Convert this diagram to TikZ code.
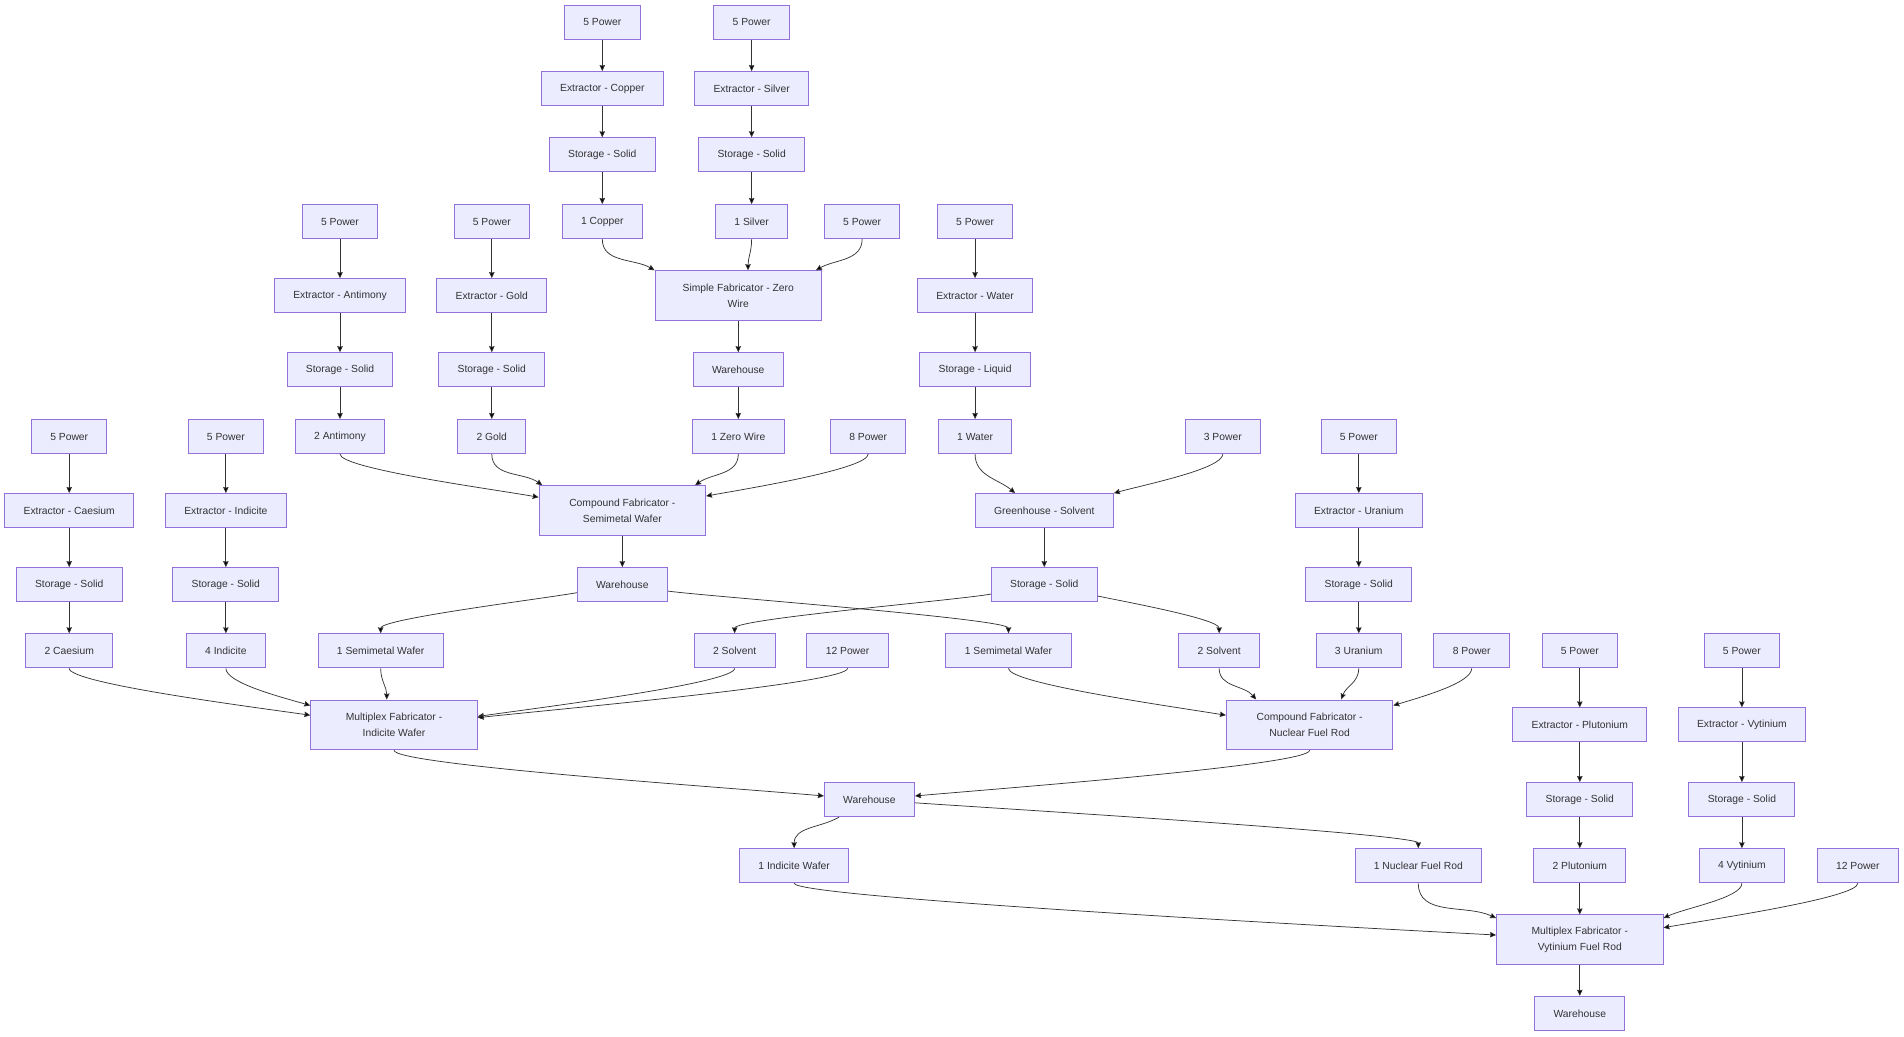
\documentclass[tikz,border=0pt]{standalone}
\usepackage{fontspec}
\setmainfont{Liberation Sans}
\usetikzlibrary{positioning,arrows.meta}
\definecolor{boxfill}{HTML}{ECECFF}
\definecolor{boxline}{HTML}{9370DB}
\definecolor{ink}{HTML}{333333}

\begin{document}
\begin{tikzpicture}[x=1pt,y=1pt,>={Stealth[length=5pt,width=4.5pt,inset=0.5pt]},
	box/.style={draw=boxline,fill=boxfill,line width=0.8pt,text=ink,
		font=\fontsize{8.5}{13}\selectfont,inner xsep=15.5pt,minimum height=28pt},
	fab/.style={box,align=center,minimum width=137pt,minimum height=41pt,inner xsep=4pt}]
	\useasboundingbox (0,0) rectangle (1568,-853.2);
	% copper and silver
	\node[box] (pw_cu) at (496,-18.5) {5 Power};
	\node[box] (pw_ag) at (619,-18.5) {5 Power};
	\node[box] (ex_cu) at (496,-73) {Extractor - Copper};
	\node[box] (ex_ag) at (619,-73) {Extractor - Silver};
	\node[box] (st_cu) at (496,-127.5) {Storage - Solid};
	\node[box] (st_ag) at (619,-127.5) {Storage - Solid};
	\node[box] (pw_sb) at (280,-182.5) {5 Power};
	\node[box] (pw_au) at (405,-182.5) {5 Power};
	\node[box] (cu) at (496,-182.5) {1 Copper};
	\node[box] (ag) at (619,-182.5) {1 Silver};
	\node[box] (pw_sf) at (710,-182.5) {5 Power};
	\node[box] (pw_h2o) at (803,-182.5) {5 Power};
	\node[box] (ex_sb) at (280,-243.5) {Extractor - Antimony};
	\node[box] (ex_au) at (405,-243.5) {Extractor - Gold};
	\node[fab] (sf) at (608,-243.5) {Simple Fabricator - Zero\\Wire};
	\node[box] (ex_h2o) at (803,-243.5) {Extractor - Water};
	\node[box] (st_sb) at (280,-304.5) {Storage - Solid};
	\node[box] (st_au) at (405,-304.5) {Storage - Solid};
	\node[box] (wh_zw) at (608,-304.5) {Warehouse};
	\node[box] (st_h2o) at (803,-304.5) {Storage - Liquid};
	% semimetal wafer and solvent
	\node[box] (pw_cs) at (57,-359.5) {5 Power};
	\node[box] (pw_in) at (186,-359.5) {5 Power};
	\node[box] (sb) at (280,-359.5) {2 Antimony};
	\node[box] (au) at (405,-359.5) {2 Gold};
	\node[box] (zw) at (608,-359.5) {1 Zero Wire};
	\node[box] (pw_sw) at (715,-359.5) {8 Power};
	\node[box] (h2o) at (803,-359.5) {1 Water};
	\node[box] (pw_gh) at (1007,-359.5) {3 Power};
	\node[box] (pw_u) at (1119,-359.5) {5 Power};
	\node[box] (ex_cs) at (57,-420.5) {Extractor - Caesium};
	\node[box] (ex_in) at (186,-420.5) {Extractor - Indicite};
	\node[fab] (cf_sw) at (512.5,-420.5) {Compound Fabricator -\\Semimetal Wafer};
	\node[box] (gh) at (860,-420.5) {Greenhouse - Solvent};
	\node[box] (ex_u) at (1119,-420.5) {Extractor - Uranium};
	\node[box] (st_cs) at (57,-481.5) {Storage - Solid};
	\node[box] (st_in) at (186,-481.5) {Storage - Solid};
	\node[box] (wh_sw) at (512.5,-481.5) {Warehouse};
	\node[box] (st_gh) at (860,-481.5) {Storage - Solid};
	\node[box] (st_u) at (1119,-481.5) {Storage - Solid};
	% indicite wafer and nuclear fuel rod
	\node[box] (cs) at (57,-536) {2 Caesium};
	\node[box] (ind) at (186,-536) {4 Indicite};
	\node[box] (sw_a) at (313.5,-536) {1 Semimetal Wafer};
	\node[box] (solv_a) at (605,-536) {2 Solvent};
	\node[box] (pw_mfi) at (698,-536) {12 Power};
	\node[box] (sw_b) at (830.5,-536) {1 Semimetal Wafer};
	\node[box] (solv_b) at (1004,-536) {2 Solvent};
	\node[box] (u) at (1119,-536) {3 Uranium};
	\node[box] (pw_cfn) at (1212,-536) {8 Power};
	\node[box] (pw_pu) at (1301,-536) {5 Power};
	\node[box] (pw_vy) at (1434.5,-536) {5 Power};
	\node[fab] (mf_iw) at (324.5,-597) {Multiplex Fabricator -\\Indicite Wafer};
	\node[fab] (cf_nfr) at (1078.5,-597) {Compound Fabricator -\\Nuclear Fuel Rod};
	\node[box] (ex_pu) at (1301,-597) {Extractor - Plutonium};
	\node[box] (ex_vy) at (1434.5,-597) {Extractor - Vytinium};
	\node[box] (wh_mid) at (716,-658.5) {Warehouse};
	\node[box] (st_pu) at (1301,-658.5) {Storage - Solid};
	\node[box] (st_vy) at (1434.5,-658.5) {Storage - Solid};
	% vytinium fuel rod
	\node[box] (iw) at (654,-713) {1 Indicite Wafer};
	\node[box] (nfr) at (1168,-713) {1 Nuclear Fuel Rod};
	\node[box] (pu) at (1301,-713) {2 Plutonium};
	\node[box] (vy) at (1434.5,-713) {4 Vytinium};
	\node[box] (pw_mfv) at (1530,-713) {12 Power};
	\node[fab] (mf_vfr) at (1301,-774) {Multiplex Fabricator -\\Vytinium Fuel Rod};
	\node[box] (wh_end) at (1301,-834.5) {Warehouse};
	\path[->,draw=ink,line width=0.6pt]
	(pw_cu) edge (ex_cu) (ex_cu) edge (st_cu) (st_cu) edge (cu)
	(pw_ag) edge (ex_ag) (ex_ag) edge (st_ag) (st_ag) edge (ag)
	(cu) edge [out=-90,in=150] (sf.north west)
	(ag) edge [out=-90,in=90] ([xshift=8pt]sf.north)
	(pw_sf) edge [out=-90,in=30] ([xshift=-5pt]sf.north east)
	(sf) edge (wh_zw) (wh_zw) edge (zw)
	(pw_sb) edge (ex_sb) (ex_sb) edge (st_sb) (st_sb) edge (sb)
	(pw_au) edge (ex_au) (ex_au) edge (st_au) (st_au) edge (au)
	(pw_h2o) edge (ex_h2o) (ex_h2o) edge (st_h2o) (st_h2o) edge (h2o)
	(sb) edge [out=-90,in=170,out distance=12pt,in distance=40pt] ([yshift=11pt]cf_sw.west)
	(au) edge [out=-90,in=145] ([xshift=3pt]cf_sw.north west)
	(zw) edge [out=-90,in=35] ([xshift=-9pt]cf_sw.north east)
	(pw_sw) edge [out=-90,in=10,out distance=12pt,in distance=40pt] ([yshift=12pt]cf_sw.east)
	(cf_sw) edge (wh_sw)
	(h2o) edge [out=-90,in=140] ([xshift=-24pt]gh.north)
	(pw_gh) edge [out=-90,in=15,out distance=12pt,in distance=30pt] (gh.north east)
	(gh) edge (st_gh)
	(pw_cs) edge (ex_cs) (ex_cs) edge (st_cs) (st_cs) edge (cs)
	(pw_in) edge (ex_in) (ex_in) edge (st_in) (st_in) edge (ind)
	(pw_u) edge (ex_u) (ex_u) edge (st_u) (st_u) edge (u)
	(wh_sw) edge [out=190,in=90,out distance=30pt,in distance=12pt] (sw_a)
	(wh_sw) edge [out=-8,in=90,out distance=30pt,in distance=12pt] (sw_b)
	(st_gh) edge [out=190,in=90,out distance=30pt,in distance=12pt] (solv_a)
	(st_gh) edge [out=-12,in=90,out distance=20pt,in distance=12pt] (solv_b)
	(cs) edge [out=-90,in=172,out distance=12pt,in distance=60pt] ([yshift=8pt]mf_iw.west)
	(ind) edge [out=-90,in=164,out distance=12pt,in distance=25pt] ([yshift=16pt]mf_iw.west)
	(sw_a) edge [out=-90,in=90] ([xshift=-6pt]mf_iw.north)
	(solv_a) edge [out=-90,in=8,out distance=12pt,in distance=60pt] ([yshift=7pt]mf_iw.east)
	(pw_mfi) edge [out=-90,in=6,out distance=12pt,in distance=80pt] ([yshift=6pt]mf_iw.east)
	(sw_b) edge [out=-90,in=171,out distance=12pt,in distance=60pt] ([yshift=8pt]cf_nfr.west)
	(solv_b) edge [out=-90,in=130] ([xshift=-44pt]cf_nfr.north)
	(u) edge [out=-90,in=70] ([xshift=26pt]cf_nfr.north)
	(pw_cfn) edge [out=-90,in=17,out distance=12pt,in distance=25pt] ([yshift=16pt]cf_nfr.east)
	(pw_pu) edge (ex_pu) (ex_pu) edge (st_pu) (st_pu) edge (pu)
	(pw_vy) edge (ex_vy) (ex_vy) edge (st_vy) (st_vy) edge (vy)
	(mf_iw) edge [out=-90,in=175,out distance=12pt,in distance=80pt] ([yshift=3pt]wh_mid.west)
	(cf_nfr) edge [out=-90,in=5,out distance=12pt,in distance=80pt] ([yshift=3pt]wh_mid.east)
	(wh_mid) edge [out=-150,in=90] (iw)
	(wh_mid) edge [out=-4,in=90,out distance=60pt,in distance=12pt] (nfr)
	(iw) edge [out=-90,in=177,out distance=12pt,in distance=100pt] ([yshift=4pt]mf_vfr.west)
	(nfr) edge [out=-90,in=155] ([yshift=-3pt]mf_vfr.north west)
	(pu) edge (mf_vfr)
	(vy) edge [out=-90,in=25,out distance=12pt,in distance=20pt] ([yshift=-3pt]mf_vfr.north east)
	(pw_mfv) edge [out=-90,in=10,out distance=12pt,in distance=40pt] ([yshift=10pt]mf_vfr.east)
	(mf_vfr) edge (wh_end);
\end{tikzpicture}
\end{document}
